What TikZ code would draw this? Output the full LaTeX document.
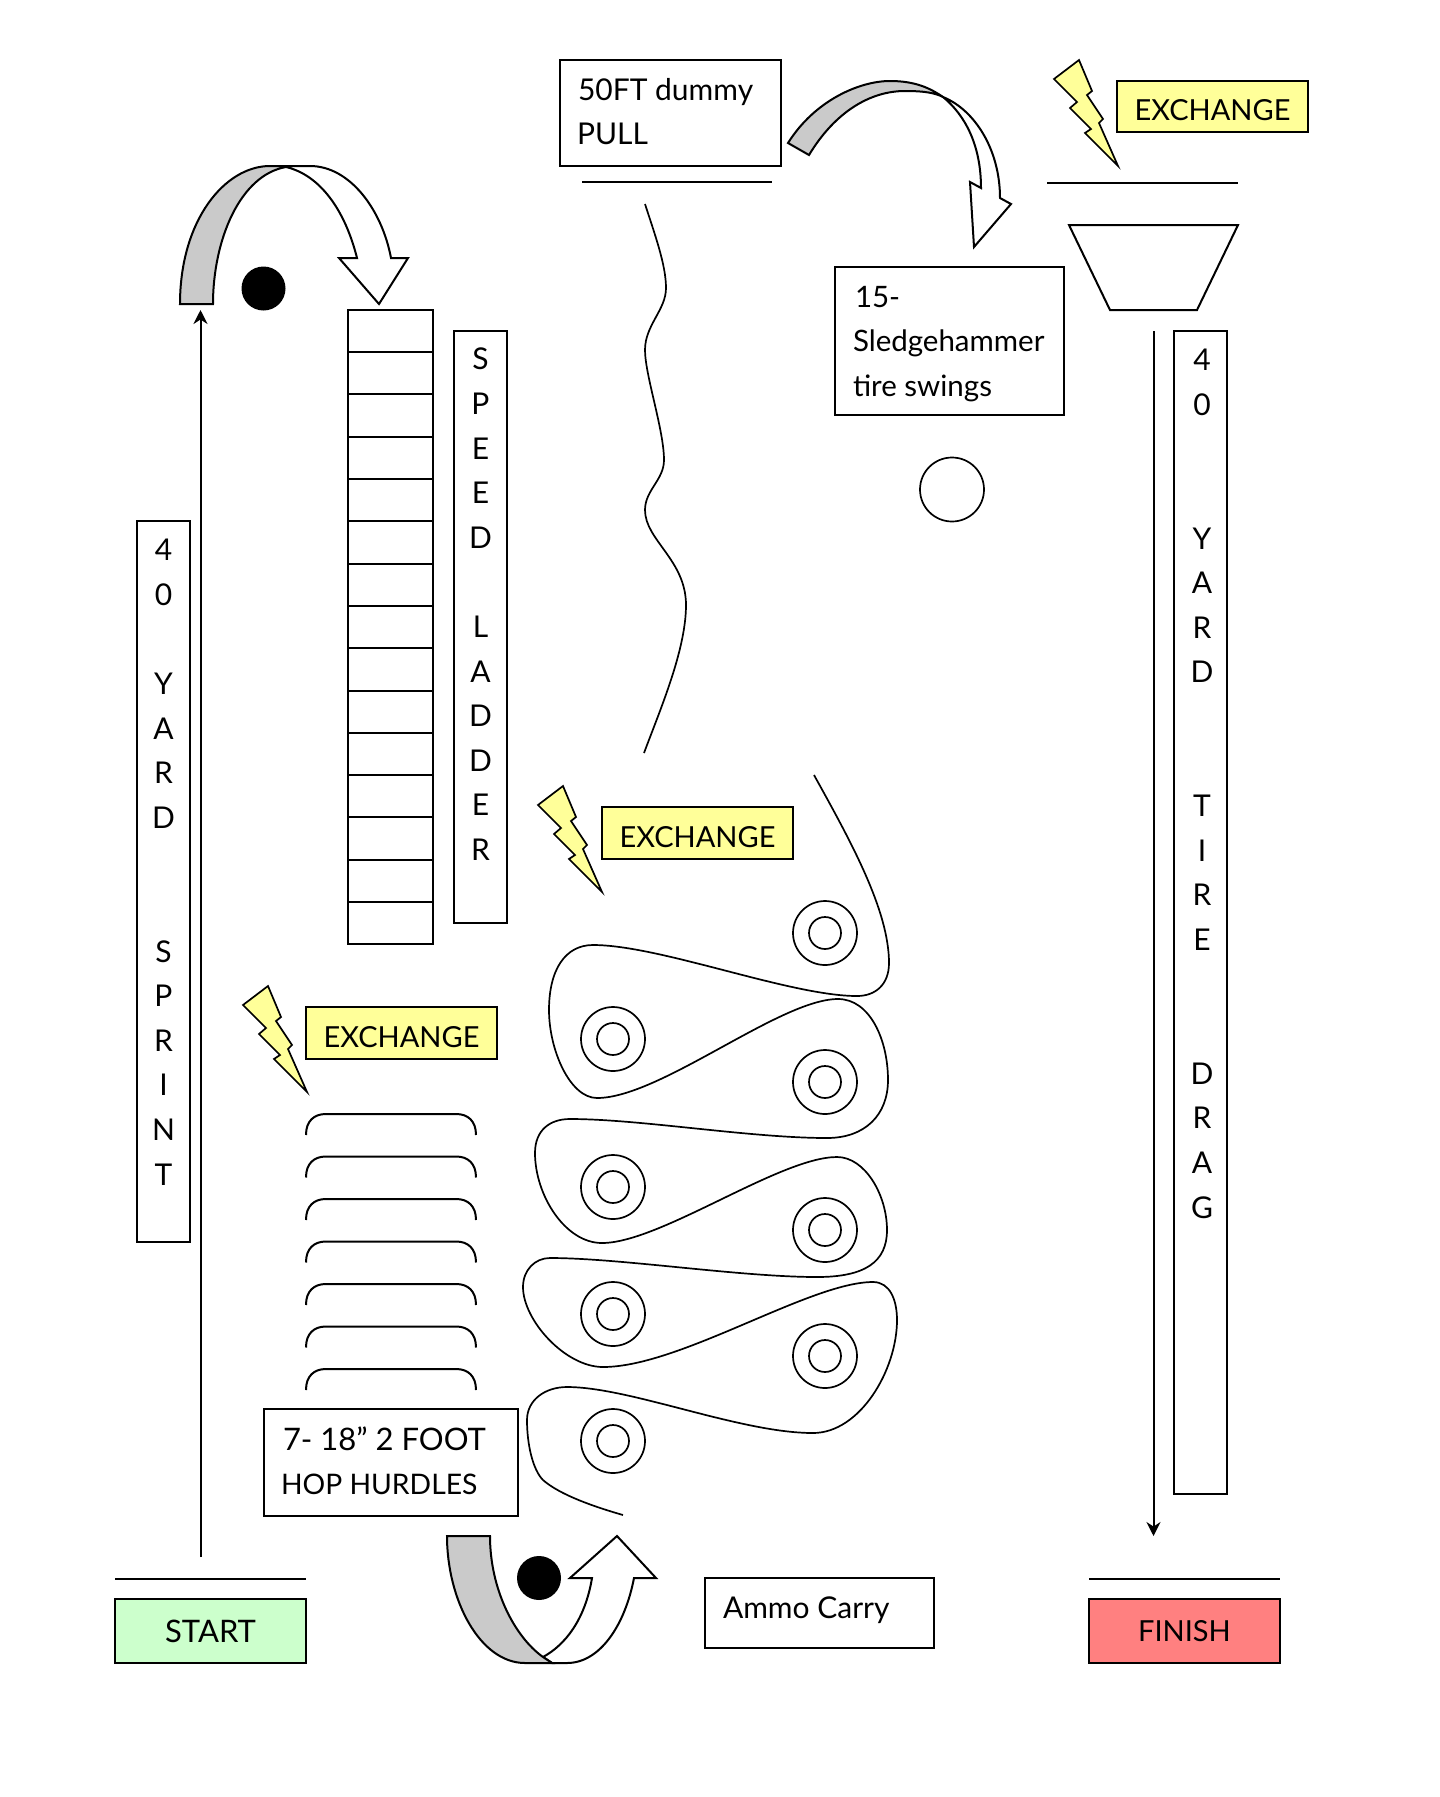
\documentclass[tikz,border=0pt]{standalone}
\usepackage{fontspec}
\setmainfont{Lato}
\usetikzlibrary{arrows.meta}
\definecolor{startgreen}{HTML}{CCFFCC}
\definecolor{finishred}{HTML}{FF8080}
\definecolor{exchyellow}{HTML}{FFFF99}
\definecolor{turngray}{HTML}{CACACA}
\tikzset{
  ink/.style={line width=2pt, line join=miter},
  thinink/.style={line width=1.7pt},
  labelbox/.style={draw, ink, rectangle, inner sep=0pt, outer sep=0pt},
  txt/.style={inner sep=0pt, outer sep=0pt, align=left, anchor=base west,
              font=\fontsize{30}{44}\selectfont},
  stack/.style={inner sep=0pt, outer sep=0pt, align=center, anchor=base,
                font=\fontsize{30}{44.6}\selectfont},
  exch/.style={labelbox, fill=exchyellow, text height=28pt, text depth=0pt,
               font=\fontsize{29}{36}\selectfont},
  rung/.style={draw, ink, rectangle, inner sep=0pt, outer sep=0pt,
               minimum width=85pt, minimum height=42.3pt},
  tire/.pic={
    \draw[thinink] (0,0) circle[radius=32pt];
    \draw[thinink] (0,0) circle[radius=16pt];
  },
  bolt/.pic={
    \draw[thinink, fill=exchyellow, line join=miter]
      (0,19) -- (25,0) -- (38,31) -- (33,35) -- (49,59) -- (45,63) -- (64,106)
      -- (31,73) -- (37,69) -- (16,48) -- (23,42) -- cycle;
  },
  hurdle/.pic={
    \draw[ink] (306,21) .. controls (306,7) and (314,0) .. (326,0) -- (456,0)
      .. controls (468,0) and (476,7) .. (476,21);
  },
}
\begin{document}
\begin{tikzpicture}[x=1pt,y=-1pt]
\useasboundingbox[fill=white] (0,0) rectangle (1440,1797);

% start and finish
\node[labelbox, fill=startgreen, minimum width=191pt, minimum height=64pt, font=\fontsize{31}{36}\selectfont] (start) at (210.5,1631) {START};
\node[labelbox, fill=finishred, minimum width=191pt, minimum height=64pt, font=\fontsize{29}{36}\selectfont] (finish) at (1184.5,1631) {FINISH};
\coordinate (startL) at (115,1578.5);
\coordinate (startR) at (306,1578.5);
\coordinate (finishL) at (1089,1578.5);
\coordinate (finishR) at (1280,1578.5);
\draw[ink] (startL) -- (startR);
\draw[ink] (finishL) -- (finishR);

% 40 yard sprint
\node[labelbox, minimum width=53.5pt, minimum height=721pt] (sprintbox) at (163.3,881.5) {};
\node[stack] (sprinttext) at (163.5,1185) {4\\0\\~\\Y\\A\\R\\D\\~\\~\\S\\P\\R\\I\\N\\T};
\coordinate (sprintA) at (200.5,1557);
\coordinate (sprintB) at (200.5,310);
\draw[ink, -{Stealth[length=14pt,width=14pt]}] (sprintA) -- (sprintB);

% turn above the sprint
\fill (263.5,288.5) circle[radius=22pt];
\draw[ink, fill=white] (270,166) -- (310,166) .. controls (350,166) and (382,210) .. (391,258)
  -- (408,258) -- (379,304) -- (339,258) -- (357,258)
  .. controls (345,210) and (320,175) .. (286,167) -- cycle;
\draw[ink, fill=turngray] (180,304) .. controls (180,220) and (225,166) .. (270,166) -- (286,166) -- (286,167)
  .. controls (240,175) and (213,240) .. (213,304) -- cycle;

% speed ladder
\foreach \n in {0,...,14} {
  \node[rung] (rung\n) at (390.5,{331+42.3*\n}) {};
}
\node[labelbox, minimum width=53pt, minimum height=592pt] (ladderbox) at (480.5,627) {};
\node[stack] (laddertext) at (480.5,860.5) {S\\P\\E\\E\\D\\~\\L\\A\\D\\D\\E\\R};

% exchange zones
\node[exch, minimum width=191pt, minimum height=51pt] (exchtop) at (1212.5,106.5) {EXCHANGE};
\node[exch, minimum width=191pt, minimum height=52pt] (exchmid) at (697.5,833) {EXCHANGE};
\node[exch, minimum width=191pt, minimum height=52pt] (exchlow) at (401.5,1033) {EXCHANGE};
\pic at (1054,60) {bolt};
\pic at (538,786) {bolt};
\pic at (243,986) {bolt};

% dummy pull
\node[labelbox, minimum width=221pt, minimum height=106pt] (dummy) at (670.5,113) {};
\node[txt] (dummytext) at (577,144) {\hspace{1pt}50FT dummy\\PULL};
\coordinate (dummyL) at (582,182);
\coordinate (dummyR) at (772,182);
\draw[ink] (dummyL) -- (dummyR);

% wavy drag path
\draw[thinink] (645,204) .. controls (655,235) and (666,265) .. (666,288)
  .. controls (666,310) and (645,325) .. (645,350)
  .. controls (645,375) and (664,430) .. (664,460)
  .. controls (664,480) and (645,490) .. (645,510)
  .. controls (645,540) and (686,560) .. (686,605)
  .. controls (686,650) and (660,710) .. (644,753);

% turn to the sledgehammer station
\draw[ink, fill=white] (943,97) .. controls (975,110) and (1000,150) .. (1000,198)
  -- (1011,204) -- (974,247) -- (970,182) -- (981,188)
  .. controls (981,145) and (965,115) .. (943,97) -- cycle;
\draw[ink, fill=turngray] (788,143) .. controls (815,100) and (860,81) .. (890,81)
  .. controls (915,81) and (930,88) .. (943,97)
  .. controls (935,93) and (925,91) .. (905,91)
  .. controls (870,91) and (835,112) .. (809,155) -- cycle;

% sledgehammer tire swings
\node[labelbox, minimum width=229pt, minimum height=148pt] (sledge) at (949.5,341) {};
\node[txt, font=\fontsize{29.5}{44.5}\selectfont] (sledgetext) at (853,396) {\hspace{2pt}15-\\Sledgehammer\\tire swings};
\node[draw, thinink, circle, minimum size=64pt, inner sep=0pt] (tirestation) at (952,489.5) {};

% tire drag
\coordinate (dragTL) at (1047,182.5);
\coordinate (dragTR) at (1238,182.5);
\draw[ink] (dragTL) -- (dragTR);
\draw[ink] (1069,225) -- (1238,225) -- (1197,310) -- (1110,310) -- cycle;
\node[labelbox, minimum width=53pt, minimum height=1163pt] (dragbox) at (1200.5,912.5) {};
\node[stack] (dragtext) at (1202,1218) {4\\0\\~\\~\\Y\\A\\R\\D\\~\\~\\T\\I\\R\\E\\~\\~\\D\\R\\A\\G};
\coordinate (dragA) at (1153.5,331);
\coordinate (dragB) at (1153.5,1536);
\draw[ink, -{Stealth[length=14pt,width=14pt]}] (dragA) -- (dragB);

% ammo carry course
\draw[thinink] (814,775) .. controls (850,840) and (889,910) .. (889,963)
  .. controls (889,985) and (875,996) .. (857,996)
  .. controls (790,996) and (660,945) .. (593,945)
  .. controls (565,945) and (549,970) .. (549,1010)
  .. controls (549,1050) and (570,1098) .. (597,1098)
  .. controls (660,1098) and (780,999) .. (838,999)
  .. controls (870,999) and (888,1040) .. (888,1080)
  .. controls (888,1115) and (865,1138) .. (827,1138)
  .. controls (750,1138) and (640,1119) .. (570,1119)
  .. controls (550,1119) and (535,1130) .. (535,1153)
  .. controls (535,1195) and (565,1243) .. (602,1243)
  .. controls (660,1243) and (780,1157) .. (837,1157)
  .. controls (865,1157) and (887,1195) .. (887,1230)
  .. controls (887,1262) and (865,1277) .. (817,1277)
  .. controls (740,1277) and (620,1258) .. (550,1258)
  .. controls (535,1258) and (523,1270) .. (523,1287)
  .. controls (523,1320) and (565,1367) .. (603,1367)
  .. controls (680,1367) and (810,1282) .. (873,1282)
  .. controls (890,1282) and (897,1300) .. (897,1320)
  .. controls (897,1370) and (860,1433) .. (813,1433)
  .. controls (740,1433) and (630,1387) .. (567,1387)
  .. controls (545,1387) and (527,1400) .. (527,1420)
  .. controls (527,1445) and (533,1470) .. (543,1480)
  .. controls (560,1495) and (595,1507) .. (623,1515);
\foreach \cx/\cy in {825/933, 613/1039, 825/1082, 613/1187, 825/1230, 613/1314, 825/1356, 613/1441} {
  \pic at (\cx,\cy) {tire};
}

% hop hurdles
\foreach \n in {0,...,6} {
  \pic at (0,{1114+42.5*\n}) {hurdle};
}
\node[labelbox, minimum width=254pt, minimum height=107pt] (hop) at (391,1462) {};
\node[txt] (hoptext) at (281,1494) {\hspace{2pt}{\fontsize{31}{44}\selectfont 7- 18” 2 FOOT}\\{\fontsize{28.3}{44}\selectfont HOP HURDLES}};

% ammo carry
\node[labelbox, minimum width=229pt, minimum height=70pt] (ammo) at (819.5,1613) {};
\node[txt] (ammotext) at (723,1618) {Ammo Carry};

% turn at the bottom
\fill (539,1578) circle[radius=22pt];
\draw[ink, fill=white] (543,1657) .. controls (565,1645) and (585,1620) .. (592,1578)
  -- (570,1578) -- (617,1536) -- (656,1578) -- (634,1578)
  .. controls (625,1625) and (600,1663) .. (567,1663) -- (552,1663) -- cycle;
\draw[ink, fill=turngray] (447,1536) .. controls (447,1600) and (480,1663) .. (525,1663) -- (552,1663)
  -- (543,1657) .. controls (515,1637) and (490,1590) .. (490,1536) -- cycle;
\end{tikzpicture}
\end{document}
